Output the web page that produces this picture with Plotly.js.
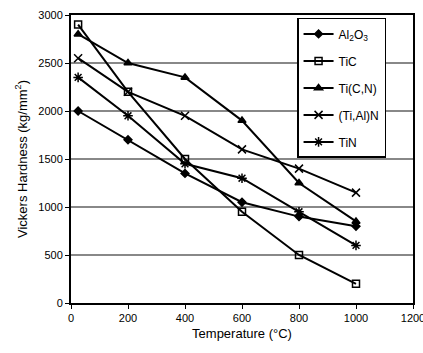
<!DOCTYPE html>
<html>
<head>
<meta charset="utf-8">
<script src="https://cdn.plot.ly/plotly-3.0.1.min.js"></script>
<style>html,body{margin:0;padding:0;background:#fff;}#chart{width:423px;height:353px;}</style>
</head>
<body>
<div id="chart"></div>
<script>
const temps = [25, 200, 400, 600, 800, 1000];
const al2o3 = [2000, 1700, 1350, 1050, 900, 800];
const tic = [2900, 2200, 1500, 950, 500, 200];
const ticn = [2800, 2500, 2350, 1900, 1250, 850];
const tialn = [2550, 2200, 1950, 1600, 1400, 1150];
const tin = [2350, 1950, 1450, 1300, 950, 600];
const names = ['Al<sub>2</sub>O<sub>3</sub>', 'TiC', 'Ti(C,N)', '(Ti,Al)N', 'TiN'];
const seriesVals = [al2o3, tic, ticn, tialn, tin];
const symbols = ['diamond', 'square-open', 'triangle-up', 'x-thin-open', 'asterisk-open'];
const sizes = [6, 7, 7, 8, 8];

const traces = seriesVals.map((v, i) => ({
  x: temps, y: v, name: names[i], type: 'scatter', mode: 'lines+markers',
  legendgroup: 'g' + i,
  line: {color: '#000', width: 2},
  marker: {symbol: symbols[i], size: sizes[i], color: '#000',
           line: {color: '#000', width: 1.5}}
}));

const layout = {
  width: 423, height: 353,
  margin: {l: 71, r: 10, t: 15, b: 50},
  paper_bgcolor: '#fff', plot_bgcolor: '#fff',
  font: {family: 'Liberation Sans, Arial, sans-serif', color: '#000', size: 11},
  showlegend: true,
  legend: {x: 0.661, y: 0.99, xanchor: 'left', yanchor: 'top',
           bgcolor: '#fff', bordercolor: '#000', borderwidth: 1.5,
           font: {size: 12}, tracegroupgap: 8, itemwidth: 30, entrywidth: 98},
  xaxis: {range: [0, 1200], dtick: 200, tick0: 0, showgrid: false, zeroline: false,
          showline: true, linecolor: '#000', linewidth: 2, mirror: true,
          ticks: 'outside', ticklen: 4, tickcolor: '#000',
          tickfont: {size: 11}, ticklabeloverflow: 'allow',
          title: {text: 'Temperature (°C)', font: {size: 13}, standoff: 6}},
  yaxis: {range: [0, 3000], dtick: 500, tick0: 0, showgrid: true, gridcolor: '#888', gridwidth: 1.5,
          zeroline: false, showline: true, linecolor: '#000', linewidth: 2, mirror: true,
          ticks: 'outside', ticklen: 4, tickcolor: '#000',
          tickfont: {size: 11},
          title: {text: 'Vickers Hardness (kg/mm<sup>2</sup>)', font: {size: 13}, standoff: 8}}
};
Plotly.newPlot('chart', traces, layout, {staticPlot: true, displayModeBar: false});
</script>
</body>
</html>
